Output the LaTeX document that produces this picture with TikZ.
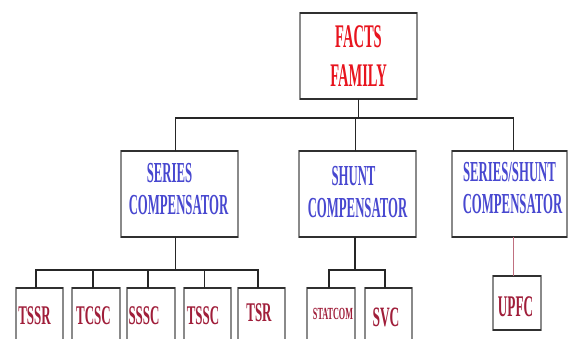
\documentclass[tikz,border=0pt]{standalone}
\usepackage{fontspec}
\newfontfamily\cond[FakeStretch=0.44]{Liberation Serif}
\newfontfamily\devfont[FakeStretch=0.48]{Liberation Serif}
\definecolor{factred}{HTML}{E8141E}
\definecolor{compblue}{HTML}{4848D0}
\definecolor{devred}{HTML}{A01E3A}
\definecolor{edgegray}{HTML}{8A8A8A}
\definecolor{edgedark}{HTML}{303030}
\definecolor{pinkline}{HTML}{C07080}
% shift a text horizontally by #1 (keeps width zero)
\newcommand{\hx}[2]{\hspace*{#1}\makebox[0pt]{#2}\hspace*{-#1}}
% shift a text by (#1,#2) inside a node
\newcommand{\place}[3]{\raisebox{#2}[\height][\depth]{\hx{#1}{#3}}}
% two lines, raised by #1, each shifted horizontally
\newcommand{\twoline}[5]{\raisebox{#1}[\height][\depth]{\begin{tabular}{@{}c@{}}\hx{#2}{#3}\\\hx{#4}{#5}\end{tabular}}}
\begin{document}
\begin{tikzpicture}[x=1pt,y=-1pt,
  box/.style={draw=edgegray,line width=1.2pt,fill=white,inner sep=0pt,outer sep=0pt,align=center},
  bigbox/.style={box,minimum width=117pt,minimum height=86pt},
  devbox/.style={box,minimum width=47pt,minimum height=58pt,text=devred,font=\devfont\bfseries\fontsize{27}{30}\selectfont},
  comp/.style={bigbox,text=compblue,font=\cond\bfseries\fontsize{29}{32}\selectfont},
  link/.style={draw=black!85,line width=1.1pt},
  edge/.style={draw=edgedark,line width=2pt}]
\useasboundingbox (0,0) rectangle (568,338);
\clip (0,0) rectangle (568,338);
% top
\node[bigbox,text=factred,font=\cond\bfseries\fontsize{33}{38.5}\selectfont] (top) at (358.5,56) {FACTS\\FAMILY};
% compensators
\node[comp] (ser) at (179.5,194) {\twoline{1.5pt}{-10pt}{SERIES}{-1pt}{COMPENSATOR}};
\node[comp] (sh) at (357.5,194) {\twoline{-1pt}{-4pt}{SHUNT}{0pt}{COMPENSATOR}};
\node[comp,minimum width=115pt] (ss) at (509.5,194) {\twoline{3pt}{0pt}{SERIES/SHUNT}{3pt}{COMPENSATOR}};
% devices
\node[devbox] (tssr) at (39.5,317) {\place{-5pt}{1pt}{TSSR}};
\node[devbox,minimum width=48pt] (tcsc) at (96,317) {\place{-2.5pt}{1pt}{TCSC}};
\node[devbox,minimum width=48pt] (sssc) at (151,317) {\place{-7pt}{1pt}{SSSC}};
\node[devbox] (tssc) at (207.5,317) {\place{-4.5pt}{1pt}{TSSC}};
\node[devbox] (tsr) at (261.5,317) {\place{-2.5pt}{4.5pt}{TSR}};
\node[devbox,minimum width=48pt,font=\devfont\bfseries\fontsize{17}{18}\selectfont] (statcom) at (331,317) {\place{2pt}{3.5pt}{STATCOM}};
\node[devbox,font=\devfont\bfseries\fontsize{28}{30}\selectfont] (svc) at (388.5,317) {\place{-2.5pt}{0pt}{SVC}};
\node[devbox,minimum width=48pt,minimum height=54pt,font=\cond\bfseries\fontsize{30}{32}\selectfont] (upfc) at (517,303) {\place{-1.5pt}{-4pt}{UPFC}};
% dark top/bottom edges
\foreach \n in {top,ser,sh,ss,tssr,tcsc,sssc,tssc,tsr,statcom,svc,upfc}{
  \draw[edge] (\n.north west) -- (\n.north east);
  \draw[edge] (\n.south west) -- (\n.south east);
}
% level 1 connectors
\draw[link] (top.south) -- ++(0,19) coordinate (b1);
\draw[link] ([xshift=-4pt]ser.north) |- (b1) -| ([xshift=4pt]ss.north);
\draw[link] ([xshift=-2pt]sh.north) -- ([xshift=-2pt]sh.north |- b1);
% series devices
\draw[link] ([xshift=-4pt]ser.south) -- ++(0,33) coordinate (b2);
\draw[link] ([xshift=-3.5pt]tssr.north) |- (b2) -| ([xshift=-3.5pt]tsr.north);
\foreach \n in {tcsc,sssc,tssc}{
  \draw[link] ([xshift=-3pt]\n.north) -- ([xshift=-3pt]\n.north |- b2);
}
% shunt devices
\draw[link] ([xshift=-2.5pt]sh.south) -- ++(0,33) coordinate (b3);
\draw[link] ([xshift=-2pt]statcom.north) |- (b3) -| ([xshift=-3.5pt]svc.north);
% upfc
\draw[link,draw=pinkline,line width=1pt] ([xshift=4pt]ss.south) -- ([xshift=4pt]ss.south |- upfc.north);
\end{tikzpicture}
\end{document}
